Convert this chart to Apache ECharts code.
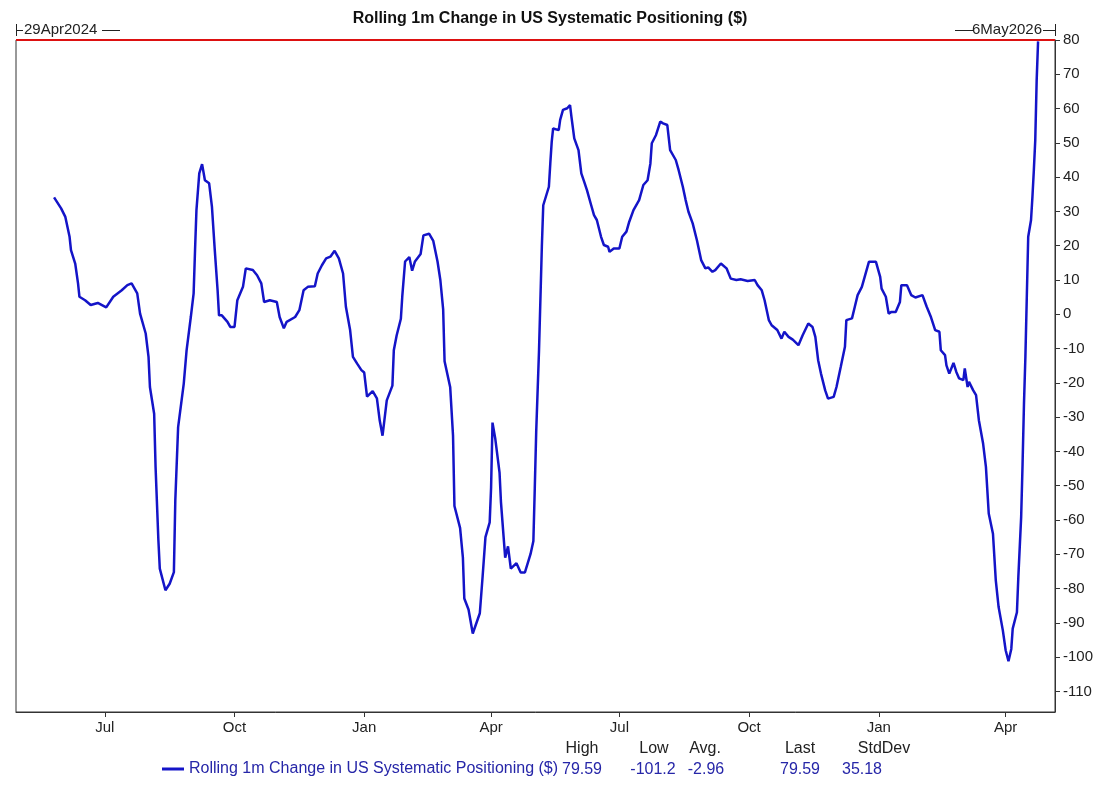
<!DOCTYPE html>
<html>
<head>
<meta charset="utf-8">
<title>Rolling 1m Change in US Systematic Positioning ($)</title>
<script src="https://cdn.jsdelivr.net/npm/echarts@6.0.0/dist/echarts.min.js"></script>
<style>
    html, body { margin: 0; padding: 0; background: #fff; }
    #main { width: 1100px; height: 798px; }
</style>
</head>
<body>
<div id="main"></div>
<script>
// series
var seriesName = 'Rolling 1m Change in US Systematic Positioning ($)';

var dates = [
    '2024-05-26','2024-05-31','2024-06-03','2024-06-06','2024-06-07','2024-06-10','2024-06-12','2024-06-13',
    '2024-06-17','2024-06-21','2024-06-26','2024-07-02','2024-07-07','2024-07-13','2024-07-17','2024-07-20',
    '2024-07-24','2024-07-26','2024-07-30','2024-08-01','2024-08-02','2024-08-05','2024-08-06','2024-08-08',
    '2024-08-09','2024-08-13','2024-08-16','2024-08-19','2024-08-20','2024-08-22','2024-08-26','2024-08-28',
    '2024-08-31','2024-09-02','2024-09-03','2024-09-04','2024-09-06','2024-09-08','2024-09-10','2024-09-13',
    '2024-09-15','2024-09-17','2024-09-19','2024-09-20','2024-09-22','2024-09-26','2024-09-28','2024-10-01',
    '2024-10-03','2024-10-07','2024-10-09','2024-10-14','2024-10-17','2024-10-20','2024-10-22','2024-10-26',
    '2024-10-31','2024-11-02','2024-11-05','2024-11-07','2024-11-13','2024-11-16','2024-11-19','2024-11-22',
    '2024-11-27','2024-11-29','2024-12-02','2024-12-05','2024-12-08','2024-12-11','2024-12-14','2024-12-17',
    '2024-12-19','2024-12-22','2024-12-24','2024-12-27','2024-12-30',
    '2025-01-01','2025-01-03','2025-01-07','2025-01-10','2025-01-12','2025-01-14','2025-01-17','2025-01-21',
    '2025-01-22','2025-01-24','2025-01-27','2025-01-28','2025-01-30','2025-02-02','2025-02-04','2025-02-06',
    '2025-02-10','2025-02-12','2025-02-16','2025-02-19','2025-02-22','2025-02-24','2025-02-26','2025-02-27',
    '2025-03-03','2025-03-05','2025-03-06','2025-03-10','2025-03-12','2025-03-13','2025-03-16','2025-03-19',
    '2025-03-24','2025-03-26','2025-03-28','2025-03-31','2025-04-01','2025-04-02','2025-04-04','2025-04-07',
    '2025-04-08','2025-04-11','2025-04-13','2025-04-15','2025-04-19','2025-04-22','2025-04-25','2025-04-29',
    '2025-05-01','2025-05-02','2025-05-03','2025-05-05','2025-05-07','2025-05-08','2025-05-12','2025-05-13',
    '2025-05-14','2025-05-15','2025-05-19','2025-05-20','2025-05-22','2025-05-25','2025-05-27','2025-05-28',
    '2025-05-30','2025-06-02','2025-06-04','2025-06-06','2025-06-08','2025-06-11','2025-06-13','2025-06-15',
    '2025-06-18','2025-06-20','2025-06-23','2025-06-24','2025-06-27','2025-07-01','2025-07-03','2025-07-06',
    '2025-07-08','2025-07-11','2025-07-15','2025-07-18','2025-07-21','2025-07-23','2025-07-24','2025-07-27',
    '2025-07-30','2025-08-01','2025-08-04','2025-08-06','2025-08-10','2025-08-12','2025-08-15','2025-08-17',
    '2025-08-19','2025-08-22','2025-08-25','2025-08-28','2025-08-31','2025-09-02','2025-09-05','2025-09-07',
    '2025-09-11','2025-09-15','2025-09-18','2025-09-22','2025-09-25','2025-09-30','2025-10-05','2025-10-07',
    '2025-10-10','2025-10-12','2025-10-15','2025-10-17','2025-10-21','2025-10-24','2025-10-26','2025-10-29',
    '2025-11-01','2025-11-05','2025-11-08','2025-11-12','2025-11-15','2025-11-17','2025-11-19','2025-11-21',
    '2025-11-24','2025-11-26','2025-11-30','2025-12-02','2025-12-05','2025-12-08','2025-12-09','2025-12-13',
    '2025-12-15','2025-12-17','2025-12-20','2025-12-22','2025-12-25','2025-12-30',
    '2026-01-02','2026-01-03','2026-01-06','2026-01-08','2026-01-10','2026-01-13','2026-01-16','2026-01-17',
    '2026-01-21','2026-01-24','2026-01-27','2026-02-01','2026-02-04','2026-02-07','2026-02-10','2026-02-13',
    '2026-02-14','2026-02-17','2026-02-18','2026-02-20','2026-02-23','2026-02-25','2026-02-27','2026-03-02',
    '2026-03-03','2026-03-05','2026-03-06','2026-03-09','2026-03-11','2026-03-13','2026-03-16','2026-03-18',
    '2026-03-20','2026-03-23','2026-03-25','2026-03-27','2026-03-30','2026-04-01','2026-04-03','2026-04-05',
    '2026-04-06','2026-04-09','2026-04-10','2026-04-12','2026-04-13','2026-04-14','2026-04-15','2026-04-16',
    '2026-04-17','2026-04-19','2026-04-20','2026-04-21','2026-04-22','2026-04-23','2026-04-24'
];

var values = [
    34.1, 30.9, 28.4, 22.6, 18.7, 14.8, 9.0, 5.1,
    4.1, 2.7, 3.3, 2.0, 5.1, 7.0, 8.5, 9.0,
    6.1, 0.2, -5.6, -12.4, -21.2, -29.0, -44.5, -65.9,
    -74.2, -80.5, -78.6, -75.2, -54.3, -32.9, -20.2, -10.5,
    -0.8, 6.1, 18.7, 30.4, 41.1, 43.8, 39.1, 38.2,
    31.3, 18.7, 7.0, -0.3, -0.3, -2.2, -3.7, -3.7,
    4.1, 8.0, 13.4, 12.9, 11.4, 9.0, 3.6, 4.1,
    3.6, -0.8, -4.1, -2.2, -0.8, 1.2, 7.0, 8.0,
    8.2, 11.9, 14.3, 16.3, 16.8, 18.5, 16.3, 11.9,
    2.2, -4.6, -12.4, -14.4, -16.3,
    -17.0, -24.0, -22.4, -24.5, -31.0, -35.4, -25.1, -20.8,
    -10.5, -6.2, -1.3, 5.2, 15.4, 16.7, 12.7, 15.4,
    17.6, 23.0, 23.5, 21.4, 15.4, 10.0, 1.4, -13.7,
    -21.3, -35.4, -55.9, -62.3, -71.0, -82.9, -86.1, -93.1,
    -87.2, -76.4, -65.0, -60.7, -50.5, -31.6, -36.4, -46.2,
    -54.8, -71.0, -67.7, -74.2, -72.6, -75.3, -75.3, -69.9,
    -66.1, -50.5, -34.3, -10.5, 19.7, 31.8, 37.2, 44.0,
    50.3, 54.2, 53.7, 56.7, 59.6, 60.1, 61.0, 57.6,
    51.3, 47.9, 41.1, 38.7, 36.2, 31.8, 28.9, 27.5,
    22.6, 20.2, 19.7, 18.2, 19.2, 19.2, 22.6, 24.1,
    27.0, 30.4, 33.3, 37.7, 39.1, 44.0, 49.9, 52.3,
    56.2, 55.7, 55.2, 47.9, 45.0, 42.1, 37.2, 33.3,
    29.9, 26.5, 21.6, 15.8, 13.4, 13.7, 12.4, 12.9,
    14.8, 13.4, 10.4, 10.0, 10.2, 9.7, 10.0, 8.5,
    7.0, 4.1, -1.7, -3.2, -4.6, -7.1, -5.1, -6.6,
    -7.4, -9.0, -6.1, -2.7, -3.7, -6.6, -13.4, -17.3,
    -22.2, -24.6, -24.1, -21.2, -15.4, -9.5, -1.7, -1.2,
    2.2, 5.6, 8.0, 10.9, 15.3, 15.3,
    10.9, 7.5, 5.1, 0.2, 0.7, 0.7, 3.6, 8.5,
    8.5, 5.6, 4.9, 5.6, 2.2, -0.8, -4.6, -5.1,
    -10.5, -11.9, -14.9, -17.3, -14.2, -16.8, -18.7, -19.2,
    -15.8, -21.2, -19.7, -22.2, -23.6, -30.9, -37.7, -44.5,
    -58.1, -64.0, -77.6, -85.4, -92.2, -98.0, -101.2, -97.6,
    -91.7, -86.9, -76.6, -59.1, -43.6, -26.0, -12.4, 5.1,
    22.6, 27.5, 34.3, 42.1, 50.8, 68.3, 79.59
];

var yTicks = [-110, -100, -90, -80, -70, -60, -50, -40, -30, -20, -10, 0, 10, 20, 30, 40, 50, 60, 70, 80];
var xTicks = ['2024-07-01', '2024-10-01', '2025-01-01', '2025-04-01', '2025-07-01', '2025-10-01', '2026-01-01', '2026-04-01'];
var monthNames = ['Jan', 'Feb', 'Mar', 'Apr', 'May', 'Jun', 'Jul', 'Aug', 'Sep', 'Oct', 'Nov', 'Dec'];
var startLabel = '29Apr2024';
var endLabel = '6May2026';
var statNames = ['High', 'Low', 'Avg.', 'Last', 'StdDev'];
var statValues = ['79.59', '-101.2', '-2.96', '79.59', '35.18'];
var highLine = 80;

function toTime(s) {
    var p = s.split('-');
    return Date.UTC(+p[0], +p[1] - 1, +p[2]);
}

var seriesData = [];
for (var i = 0; i < dates.length; i++) {
    seriesData.push([toTime(dates[i]), values[i]]);
}
var xTickTimes = xTicks.map(toTime);

var FONT = '"Liberation Sans", Arial, sans-serif';
var lineColor = '#1414c8';
var textBlue = '#2626a8';

// header / stats text
var graphics = [];
var statHeadX = [582, 654, 705, 800, 884];
var statValX = [582, 653, 706, 800, 862];
for (var k = 0; k < statNames.length; k++) {
    graphics.push({
        type: 'text', x: statHeadX[k], y: 741,
        style: { text: statNames[k], fill: '#222', font: '16px ' + FONT, align: 'center' }
    });
    graphics.push({
        type: 'text', x: statValX[k], y: 762,
        style: { text: statValues[k], fill: textBlue, font: '16px ' + FONT, align: 'center' }
    });
}
// start / end date markers above the plot
graphics.push(
    { type: 'line', shape: { x1: 16.5, y1: 24, x2: 16.5, y2: 36 }, style: { stroke: '#222', lineWidth: 1 } },
    { type: 'line', shape: { x1: 16, y1: 30.5, x2: 23, y2: 30.5 }, style: { stroke: '#222', lineWidth: 1 } },
    { type: 'text', x: 24, y: 22, style: { text: startLabel, fill: '#222', font: '15px ' + FONT } },
    { type: 'line', shape: { x1: 102, y1: 30.5, x2: 120, y2: 30.5 }, style: { stroke: '#222', lineWidth: 1 } },
    { type: 'line', shape: { x1: 955, y1: 30.5, x2: 973, y2: 30.5 }, style: { stroke: '#222', lineWidth: 1 } },
    { type: 'text', x: 1042, y: 22, style: { text: endLabel, fill: '#222', font: '15px ' + FONT, align: 'right' } },
    { type: 'line', shape: { x1: 1043, y1: 30.5, x2: 1055, y2: 30.5 }, style: { stroke: '#222', lineWidth: 1 } },
    { type: 'line', shape: { x1: 1055.5, y1: 24, x2: 1055.5, y2: 36 }, style: { stroke: '#222', lineWidth: 1 } }
);

var myChart = echarts.init(document.getElementById('main'), null, { renderer: 'canvas' });

var option = {
    backgroundColor: '#fff',
    animation: false,
    title: {
        text: seriesName,
        left: 'center',
        top: 6,
        textStyle: { fontFamily: FONT, fontSize: 16, fontWeight: 'bold', color: '#111' }
    },
    legend: {
        data: [seriesName],
        left: 162,
        top: 761,
        padding: 0,
        icon: 'rect',
        itemWidth: 22,
        itemHeight: 3,
        textStyle: { fontFamily: FONT, fontSize: 16, color: textBlue }
    },
    grid: {
        left: 16,
        right: 45,
        top: 40,
        bottom: 86,
        show: true,
        borderColor: '#333',
        borderWidth: 1
    },
    xAxis: {
        type: 'value',
        min: toTime('2024-04-29'),
        max: toTime('2026-05-06'),
        axisLine: { show: true, onZero: false, lineStyle: { color: '#333', width: 1 } },
        axisTick: { show: true, inside: false, length: 5, lineStyle: { color: '#333' }, customValues: xTickTimes },
        axisLabel: {
            customValues: xTickTimes,
            margin: 8,
            color: '#222',
            fontFamily: FONT,
            fontSize: 15,
            formatter: function (v) {
                return monthNames[new Date(v).getUTCMonth()];
            }
        },
        splitLine: { show: false }
    },
    yAxis: {
        type: 'value',
        position: 'right',
        min: -116,
        max: 80,
        axisLine: { show: true, lineStyle: { color: '#333', width: 1 } },
        axisTick: { show: true, inside: false, length: 5, lineStyle: { color: '#333' }, customValues: yTicks },
        axisLabel: { customValues: yTicks, margin: 8, color: '#222', fontFamily: FONT, fontSize: 15 },
        splitLine: { show: false }
    },
    series: [{
        name: seriesName,
        type: 'line',
        data: seriesData,
        showSymbol: false,
        color: lineColor,
        lineStyle: { color: lineColor, width: 2.5 },
        markLine: {
            silent: true,
            symbol: 'none',
            label: { show: false },
            lineStyle: { color: '#d11', width: 2, type: 'solid' },
            data: [{ yAxis: highLine }]
        }
    }],
    graphic: graphics
};
myChart.setOption(option);
</script>
</body>
</html>
